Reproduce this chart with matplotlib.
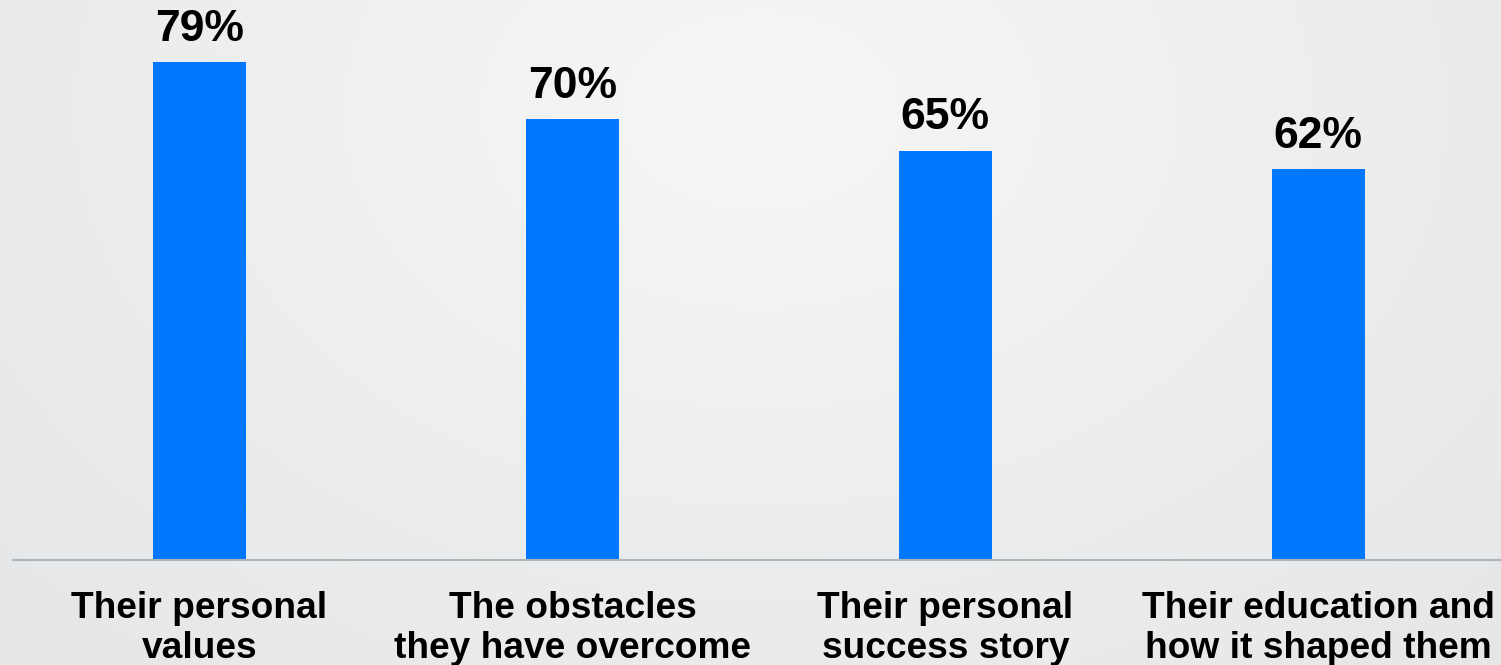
import matplotlib.pyplot as plt
import numpy as np

categories = ["Their personal\nvalues", "The obstacles\nthey have overcome",
              "Their personal\nsuccess story", "Their education and\nhow it shaped them"]
values = [79, 70, 65, 62]
labels = ["79%", "70%", "65%", "62%"]

plt.rcParams['font.family'] = ['Liberation Sans', 'DejaVu Sans']

fig = plt.figure(figsize=(15.01, 6.65), dpi=100)

# radial gradient background
bg = fig.add_axes([0, 0, 1, 1], zorder=0)
yy, xx = np.mgrid[0:665, 0:1501]
r = np.sqrt(((xx - 760) / 1050.0) ** 2 + ((yy - 110) / 750.0) ** 2)
r = np.clip(r, 0, 1)
c0 = np.array([0.962, 0.965, 0.965])
c1 = np.array([0.900, 0.905, 0.910])
img = c0[None, None, :] * (1 - r[..., None]) + c1[None, None, :] * r[..., None]
bg.imshow(img, aspect='auto', interpolation='bilinear')
bg.axis('off')

ax = fig.add_axes([13 / 1501, 105 / 665, 1488 / 1501, 560 / 665], zorder=1)
ax.patch.set_alpha(0)
x = np.arange(len(categories))
ax.bar(x, values, width=0.25, color="#0077ff")
for xi, v, lab in zip(x, values, labels):
    ax.annotate(lab, (xi, v), xytext=(0, 9), textcoords="offset points",
                ha="center", va="bottom", fontsize=32, fontweight="bold")

ax.set_xlim(-0.5, 3.49)
ax.set_ylim(0, 88.9)
ax.set_yticks([])
ax.set_xticks(x)
ax.set_xticklabels(categories, fontsize=26.7, fontweight="bold", linespacing=1.2)
ax.tick_params(axis="x", length=0, pad=22)
for s in ["top", "right", "left"]:
    ax.spines[s].set_visible(False)
ax.spines["bottom"].set_color("#b0b5b9")
ax.spines["bottom"].set_linewidth(1.5)

fig.savefig("out.png", dpi=100)
